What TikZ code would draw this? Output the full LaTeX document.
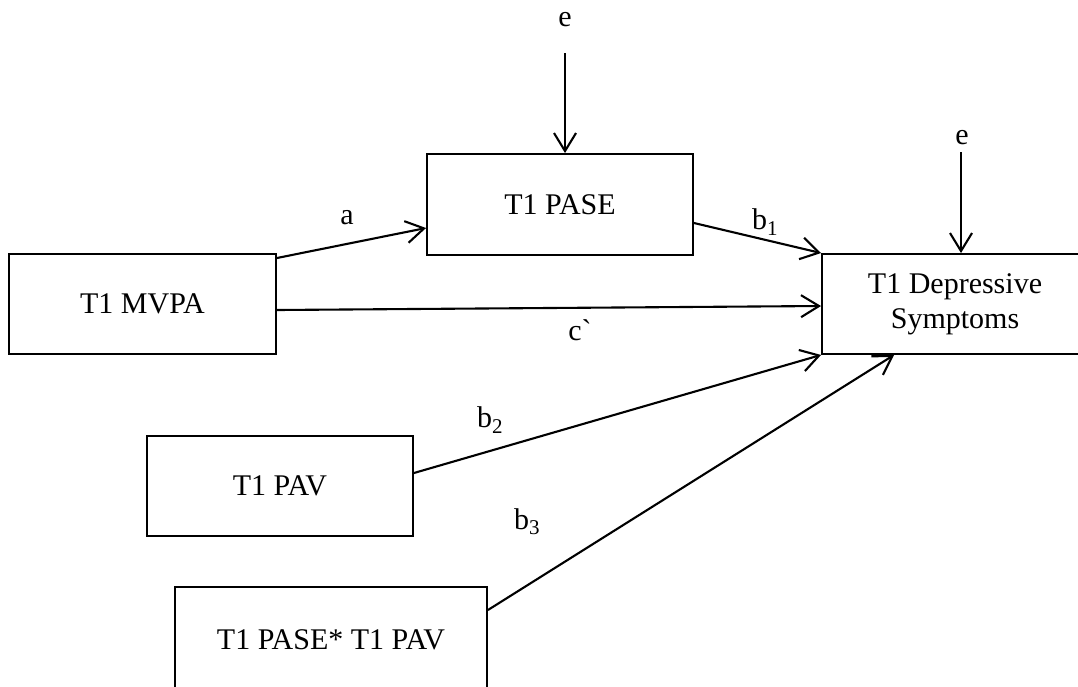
\documentclass[tikz,border=0pt]{standalone}
\usepackage{fontspec}
\setmainfont{Liberation Serif}
\usetikzlibrary{arrows.meta,calc}
\begin{document}
\begin{tikzpicture}[x=1pt,y=-1pt,
  box/.style={draw,line width=1.9pt,rectangle,inner sep=0pt,align=center,
    font=\fontsize{30}{35}\selectfont},
  lbl/.style={inner sep=0pt,font=\fontsize{30}{35}\selectfont},
  arr/.style={line width=2.1pt,-{Straight Barb[length=18pt,width=22pt]}},
  ln/.style={line width=2pt}]
\clip (0,0) rectangle (1078,686);
\fill[white] (0,0) rectangle (1078,686);
\node[box,minimum width=267pt,minimum height=100pt] (mvpa) at (142.5,304) {T1 MVPA};
\node[box,minimum width=266pt,minimum height=101pt] (pase) at (560,204.5) {T1 PASE};
\node[box,minimum width=266pt,minimum height=100pt] (dep) at (955,304) {T1 Depressive\\Symptoms};
\node[box,minimum width=266pt,minimum height=100pt] (pav) at (280,486) {T1 PAV};
\node[box,minimum width=312pt,minimum height=106pt] (int) at (331,640) {T1 PASE* T1 PAV};
% error terms
\node[lbl] (e1) at (565,20) {e};
\coordinate (e1s) at (565,53);
\draw[arr] (e1s) -- (e1s |- pase.north);
\node[lbl] (e2) at (962,138) {e};
\coordinate (e2s) at (961,152);
\draw[arr] (e2s) -- (e2s |- dep.north);
% paths
\draw[arr] ([yshift=46pt]mvpa.east) -- ([yshift=-23.5pt]pase.west);
\draw[arr] ([yshift=-18.5pt]pase.east) -- (dep.north west);
\draw[arr] ([yshift=-6pt]mvpa.east) -- ([yshift=-2pt]dep.west);
\draw[arr] ([yshift=13pt]pav.east) -- (dep.south west);
\draw[arr] ([yshift=30pt]int.east) -- ([xshift=73pt]dep.south west);
% labels
\node[lbl] (la) at (347,218) {a};
\node[lbl] (lb1) at (765,222) {b\textsubscript{1}};
\node[lbl] (lc) at (580,330) {c\textasciigrave};
\node[lbl] (lb2) at (490,420) {b\textsubscript{2}};
\node[lbl] (lb3) at (527,522) {b\textsubscript{3}};
\end{tikzpicture}
\end{document}
